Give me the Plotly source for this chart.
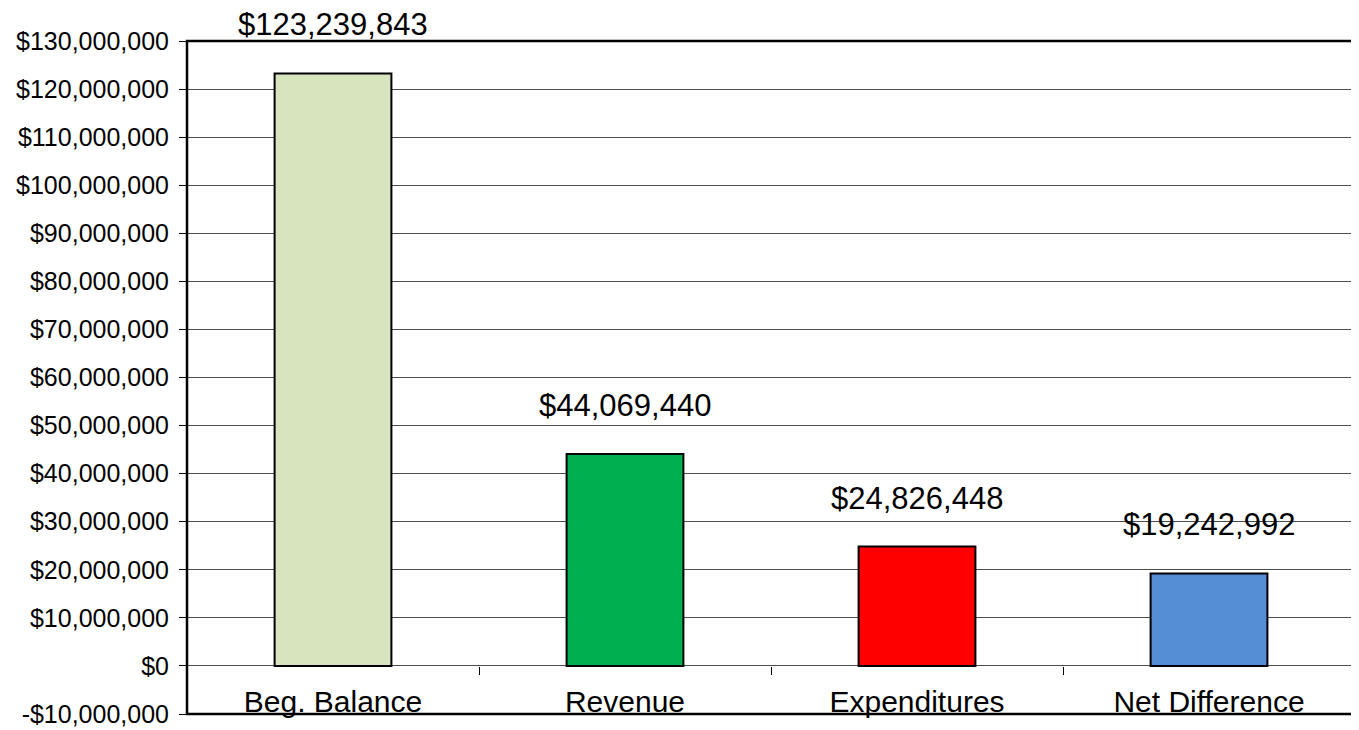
import plotly.graph_objects as go

categories = ["Beg. Balance", "Revenue", "Expenditures", "Net Difference"]
values = [123239843, 44069440, 24826448, 19242992]
bar_colors = ["#D7E4BD", "#00B050", "#FF0000", "#558ED5"]
y_ticks = list(range(-10000000, 130000001, 10000000))
y_tick_labels = [("-$" if v < 0 else "$") + f"{abs(v):,}" for v in y_ticks]

FONT = "Liberation Sans, Arial, sans-serif"

fig = go.Figure()
fig.add_trace(go.Bar(
    x=categories, y=values,
    marker=dict(color=bar_colors, line=dict(color="black", width=2)),
    width=0.4, showlegend=False, hoverinfo="skip",
))

for c, v in zip(categories, values):
    fig.add_annotation(x=c, y=v, text=f"${v:,}", showarrow=False,
                       yanchor="bottom", yshift=29,
                       font=dict(family=FONT, size=31, color="black"))

fig.update_layout(
    width=1351, height=722,
    margin=dict(l=179, r=4, t=33, b=16, autoexpand=False),
    paper_bgcolor="white", plot_bgcolor="white",
    font=dict(family=FONT, color="black"),
    bargap=0.6,
    xaxis=dict(
        anchor="free", position=1/14, automargin=False,
        showline=False, showgrid=False, zeroline=False,
        ticks="outside", tickson="boundaries", ticklen=8, tickwidth=1, tickcolor="black",
        ticklabelstandoff=15,
        tickfont=dict(family=FONT, size=30, color="black"),
    ),
    yaxis=dict(
        range=[-10000000, 130000000], automargin=False,
        tickvals=y_ticks, ticktext=y_tick_labels,
        showgrid=True, gridcolor="#4d4d4d", gridwidth=1,
        zeroline=True, zerolinecolor="#4d4d4d", zerolinewidth=1,
        showline=False,
        ticks="outside", ticklen=7, tickcolor="black", tickwidth=1,
        ticklabelstandoff=5,
        tickfont=dict(family=FONT, size=25, color="black"),
    ),
    shapes=[
        dict(type="rect", xref="paper", yref="paper", x0=0, x1=1, y0=0, y1=1,
             line=dict(color="black", width=2.5), fillcolor="rgba(0,0,0,0)", layer="above"),
        dict(type="line", xref="paper", yref="paper", x0=1.0017, x1=1.0017, y0=-0.03, y1=1.07,
             line=dict(color="black", width=1)),
    ],
)

fig.write_html("out.html")
